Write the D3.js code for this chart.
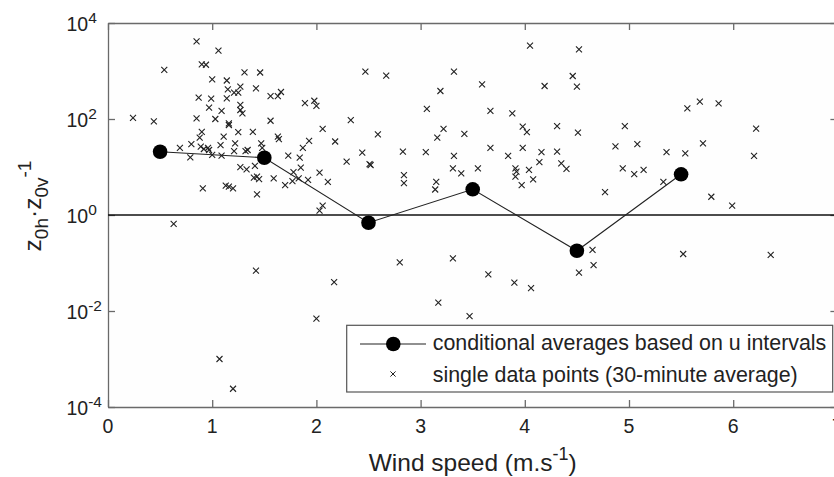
<!DOCTYPE html>
<html>
<head>
<meta charset="utf-8">
<script src="https://cdn.jsdelivr.net/npm/d3@7/dist/d3.min.js"></script>
<style>
  html, body { margin: 0; padding: 0; background: #fff; overflow: hidden; }
  svg { display: block; font-family: Arial, "Liberation Sans", sans-serif; }
</style>
</head>
<body>
<svg id="chart" width="834" height="477"></svg>
<script>
// ---- data ----
const windSpeed = [
  0.24,0.44,0.54,0.85,1.06,0.90,0.94,1.31,1.46,1.00,1.14,1.27,1.15,1.21,1.25,1.42,0.87,0.99,1.14,1.56,
  1.63,1.66,1.27,0.97,1.09,1.27,1.29,0.85,1.03,1.16,1.56,1.16,0.90,0.88,1.25,1.11,1.39,1.63,1.64,0.69,
  0.80,0.89,0.92,0.96,0.97,1.08,1.22,1.21,1.00,1.09,0.79,1.32,1.34,1.47,1.48,1.27,1.33,0.91,1.13,1.16,
  1.20,1.41,1.40,1.43,1.45,1.59,1.43,1.73,1.84,1.85,1.78,1.77,1.83,1.70,1.92,2.03,2.11,2.06,2.03,1.93,
  1.87,2.18,2.06,1.89,1.98,2.00,
  2.33,2.47,2.67,2.59,2.44,2.29,2.51,2.52,2.83,2.84,2.84,3.06,3.05,3.15,3.14,3.22,3.16,3.19,3.32,3.42,
  3.32,3.31,3.39,3.55,3.59,3.67,3.88,3.98,4.02,3.67,3.84,3.98,4.16,4.31,4.31,4.14,3.91,3.92,3.91,4.04,
  4.08,3.97,4.05,4.19,
  4.52,4.46,4.50,4.51,4.96,4.87,5.08,4.35,4.40,4.94,5.05,5.14,4.77,5.33,5.36,5.54,5.56,5.68,5.86,5.71,
  5.79,5.99,6.22,6.20,
  0.63,1.42,2.17,2.00,1.07,1.20,2.80,3.31,3.17,3.47,3.65,3.90,4.06,4.65,4.66,4.52,5.52,6.36
];
const ratio = [
  106,89,1060,4120,2670,1380,1350,940,930,671,634,471,416,353,353,436,278,265,270,301,
  301,365,196,172,147,154,131,103,100,81,92,75,54,41,53,43,54,43,38,25,
  30,26.5,23.7,25,22.6,28.7,31,21.5,17.8,17.2,15.9,21.5,22.6,31,25,9.9,8.9,3.6,4.1,3.9,
  3.6,10.6,6.0,6.3,5.6,5.8,2.7,17.2,15.6,9.7,7.8,5.1,5.8,4.2,5.4,7.6,4.9,1.56,1.23,35,
  25,34,62,215,240,187,
  95,967,798,48,20,12.9,11.5,11.0,20.8,6.8,4.6,162,20.5,4.9,3.4,62,41,383,967,49,
  17,9.4,7.4,9.4,528,147,131,69,53,25,17,25,20.5,20.8,71,12.7,9.4,8.0,6.3,8.7,
  5.5,4.2,3370,487,
  2830,787,471,52,71,27,30,11.9,9.1,9.4,7.1,8.7,3.0,4.9,20.5,19.3,167,229,212,31,
  2.4,1.56,63,17,
  0.65,0.069,0.040,0.0069,0.0010,0.00024,0.103,0.125,0.0149,0.0078,0.058,0.039,0.030,0.187,0.090,0.063,0.154,0.147
];
const avgWind  = [0.5, 1.5, 2.5, 3.5, 4.5, 5.5];
const avgRatio = [20.8, 15.6, 0.69, 3.43, 0.18, 7.05];
const xTicks = [0, 1, 2, 3, 4, 5, 6, 7];
const yTickExponents = [-4, -2, 0, 2, 4];
const legendLabels = ["conditional averages based on u intervals", "single data points (30-minute average)"];

// ---- layout ----
const plotL = 108, plotR = 837.4, plotT = 23, plotB = 407;
const svg = d3.select("#chart");

const x = d3.scaleLinear().domain([0, 7]).range([plotL, plotR]);
const y = d3.scaleLog().domain([1e-4, 1e4]).range([plotB, plotT]);

svg.append("rect").attr("x", plotL).attr("y", plotT)
  .attr("width", plotR - plotL).attr("height", plotB - plotT).attr("fill", "#fefefe");

const axisColor = "#6a6a6a";
function styleAxis(g) {
  g.select(".domain").attr("stroke", axisColor).attr("stroke-width", 1.3);
  g.selectAll(".tick line").attr("stroke", axisColor).attr("stroke-width", 1.3);
  g.selectAll(".tick text").remove();
}
const yTickVals = yTickExponents.map(e => Math.pow(10, e));
svg.append("g").attr("transform", `translate(0,${plotB})`)
  .call(d3.axisBottom(x).tickValues(xTicks).tickSize(-7).tickSizeOuter(0)).call(styleAxis);
svg.append("g").attr("transform", `translate(0,${plotT})`)
  .call(d3.axisTop(x).tickValues(xTicks).tickSize(-7).tickSizeOuter(0)).call(styleAxis);
svg.append("g").attr("transform", `translate(${plotL},0)`)
  .call(d3.axisLeft(y).tickValues(yTickVals).tickSize(-7).tickSizeOuter(0)).call(styleAxis);
svg.append("g").attr("transform", `translate(${plotR},0)`)
  .call(d3.axisRight(y).tickValues(yTickVals).tickSize(-7).tickSizeOuter(0)).call(styleAxis);

svg.append("g").selectAll("text").data(xTicks).join("text")
  .attr("x", d => x(d)).attr("y", plotB + 26)
  .attr("text-anchor", "middle").attr("font-size", 19.5).attr("fill", "#222")
  .text(d => d);

const yl = svg.append("g").selectAll("text").data(yTickExponents).join("text")
  .attr("x", 66.5).attr("y", d => y(Math.pow(10, d)) + 8)
  .attr("font-size", 19.5).attr("fill", "#222");
yl.append("tspan").text("10");
yl.append("tspan").attr("font-size", 15.5).attr("dy", -8.5).text(d => d);

svg.append("line").attr("x1", plotL).attr("x2", plotR).attr("y1", y(1)).attr("y2", y(1))
  .attr("stroke", "#111").attr("stroke-width", 1.5);

const pts = windSpeed.map((u, i) => [u, ratio[i]]);
const s = 3;
svg.append("g").selectAll("path").data(pts).join("path")
  .attr("d", d => {
    const cx = x(d[0]), cy = y(d[1]);
    return `M${cx - s},${cy - s}L${cx + s},${cy + s}M${cx - s},${cy + s}L${cx + s},${cy - s}`;
  })
  .attr("stroke", "#222").attr("stroke-width", 1.1).attr("fill", "none");

const avg = avgWind.map((u, i) => [u, avgRatio[i]]);
svg.append("path").datum(avg)
  .attr("d", d3.line().x(d => x(d[0])).y(d => y(d[1])))
  .attr("fill", "none").attr("stroke", "#222").attr("stroke-width", 1.1);
svg.append("g").selectAll("circle").data(avg).join("circle")
  .attr("cx", d => x(d[0])).attr("cy", d => y(d[1])).attr("r", 7.3).attr("fill", "#000");

const lg = svg.append("g");
lg.append("rect").attr("x", 346.7).attr("y", 325.3).attr("width", 486).attr("height", 66.7)
  .attr("fill", "#fff").attr("stroke", "#555").attr("stroke-width", 1.2);
lg.append("line").attr("x1", 360).attr("x2", 426).attr("y1", 344).attr("y2", 344)
  .attr("stroke", "#222").attr("stroke-width", 1.1);
lg.append("circle").attr("cx", 393.3).attr("cy", 344).attr("r", 7.3).attr("fill", "#000");
lg.append("path").attr("d", `M${393 - 2.6},${374 - 2.6}L${393 + 2.6},${374 + 2.6}M${393 - 2.6},${374 + 2.6}L${393 + 2.6},${374 - 2.6}`)
  .attr("stroke", "#222").attr("stroke-width", 1);
lg.selectAll("text.lt").data(legendLabels).join("text").attr("class", "lt")
  .attr("x", 432.7).attr("y", (d, i) => 350 + i * 31.7)
  .attr("font-size", 21.4).attr("fill", "#222").text(d => d);

const xt = svg.append("text").attr("x", 472.7).attr("y", 470.7)
  .attr("text-anchor", "middle").attr("font-size", 24.5).attr("fill", "#222");
xt.append("tspan").text("Wind speed (m.s");
xt.append("tspan").attr("font-size", 18).attr("dy", -11).text("-1");
xt.append("tspan").attr("dy", 11).text(")");

const yt = svg.append("text").attr("transform", "translate(41,206) rotate(-90)")
  .attr("text-anchor", "middle").attr("font-size", 24.5).attr("fill", "#222");
yt.append("tspan").text("z");
yt.append("tspan").attr("font-size", 19).attr("dy", 7).text("0h");
yt.append("tspan").attr("dy", -7).text("·z");
yt.append("tspan").attr("font-size", 19).attr("dy", 7).text("0v");
yt.append("tspan").attr("font-size", 19).attr("dy", -17).text("-1");
</script>
</body>
</html>
